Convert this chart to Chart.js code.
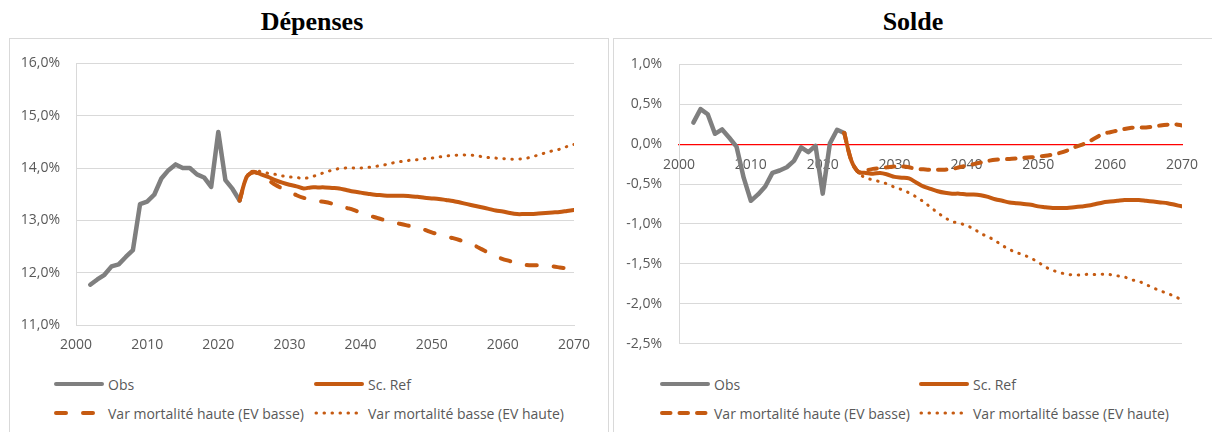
<!DOCTYPE html>
<html>
<head>
<meta charset="utf-8">
<script src="https://cdn.jsdelivr.net/npm/chart.js@4.4.1/dist/chart.umd.min.js"></script>
<style>
  html, body { margin:0; padding:0; background:#fff; }
  body { width:1212px; height:432px; position:relative; overflow:hidden; font-family:'Open Sans', sans-serif; }
  .title { position:absolute; top:6px; width:600px; text-align:center; font-family:'Liberation Serif', 'Times New Roman', serif; font-weight:bold; font-size:26px; line-height:32px; color:#000; }
  .box { position:absolute; top:38px; height:420px; border:1px solid #d9d9d9; box-sizing:border-box; }
  canvas { position:absolute; }
  .leg { position:absolute; height:20px; display:flex; align-items:center; color:#595959; font-size:14px; white-space:nowrap; }
  .leg svg { margin-right:4px; }
</style>
</head>
<body>
<div class="box" style="left:9px; width:600px;"></div>
<div class="box" style="left:613px; width:600px;"></div>
<div class="title" style="left:12px;">Dépenses</div>
<div class="title" style="left:613px;">Solde</div>
<canvas id="c1" width="597" height="330" style="left:10px; top:39px;"></canvas>
<canvas id="c2" width="597" height="330" style="left:614px; top:39px;"></canvas>
<div id="legends"></div>
<script>
// ---------- DATA ----------
const yearsObs = [2002,2003,2004,2005,2006,2007,2008,2009,2010,2011,2012,2013,2014,2015,2016,2017,2018,2019,2020,2021,2022,2023];
const yearsProj = [2023,2024,2025,2026,2027,2028,2029,2030,2031,2032,2033,2034,2035,2036,2037,2038,2039,2040,2041,2042,2043,2044,2045,2046,2047,2048,2049,2050,2051,2052,2053,2054,2055,2056,2057,2058,2059,2060,2061,2062,2063,2064,2065,2066,2067,2068,2069,2070];
const seriesNames = ['Obs', 'Sc. Ref', 'Var mortalité haute (EV basse)', 'Var mortalité basse (EV haute)'];
const chartTitles = ['Dépenses', 'Solde'];
const xTicks = [2000, 2010, 2020, 2030, 2040, 2050, 2060, 2070];
const depTicks = [11, 12, 13, 14, 15, 16];
const solTicks = [-2.5, -2.0, -1.5, -1.0, -0.5, 0.0, 0.5, 1.0];

// Dépenses (% du PIB)
const depObs = [11.77,11.87,11.96,12.12,12.16,12.30,12.43,13.31,13.36,13.49,13.80,13.96,14.07,14.00,14.00,13.88,13.82,13.64,14.69,13.77,13.60,13.38];
const depRef = [13.38,13.83,13.92,13.88,13.83,13.77,13.72,13.68,13.65,13.61,
                13.63,13.63,13.63,13.62,13.61,13.58,13.55,13.53,13.51,13.49,
                13.48,13.47,13.47,13.47,13.46,13.45,13.43,13.42,13.41,13.39,
                13.37,13.34,13.31,13.28,13.25,13.22,13.19,13.17,13.14,13.12,
                13.12,13.12,13.13,13.14,13.15,13.16,13.18,13.20];
const depHaute = [13.38,13.83,13.93,13.85,13.77,13.68,13.61,13.55,13.48,13.43,
                  13.40,13.37,13.35,13.32,13.28,13.24,13.20,13.15,13.10,13.06,
                  13.02,12.99,12.95,12.92,12.89,12.86,12.82,12.77,12.73,12.69,
                  12.66,12.62,12.57,12.52,12.45,12.38,12.31,12.26,12.22,12.17,
                  12.15,12.14,12.14,12.13,12.12,12.10,12.08,12.07];
const depBasse = [13.38,13.85,13.95,13.93,13.90,13.88,13.85,13.83,13.82,13.80,
                  13.83,13.87,13.92,13.96,13.99,14.00,14.00,14.00,14.01,14.03,
                  14.05,14.08,14.11,14.13,14.15,14.16,14.18,14.19,14.21,14.23,
                  14.24,14.25,14.25,14.24,14.22,14.20,14.19,14.18,14.17,14.17,
                  14.18,14.21,14.25,14.29,14.33,14.36,14.41,14.45];

// Solde (% du PIB)
const solObs = [0.27,0.44,0.375,0.13,0.185,0.08,-0.03,-0.42,-0.71,-0.63,-0.53,-0.36,-0.33,-0.29,-0.21,-0.04,-0.10,-0.02,-0.62,0.01,0.18,0.14];
const solRef = [0.14,-0.21,-0.35,-0.36,-0.37,-0.36,-0.38,-0.41,-0.42,-0.43,
                -0.48,-0.53,-0.56,-0.59,-0.61,-0.62,-0.62,-0.63,-0.63,-0.64,
                -0.66,-0.69,-0.71,-0.73,-0.74,-0.75,-0.76,-0.78,-0.79,-0.80,
                -0.80,-0.80,-0.79,-0.78,-0.77,-0.75,-0.73,-0.72,-0.71,-0.70,
                -0.70,-0.70,-0.71,-0.72,-0.73,-0.74,-0.76,-0.78];
const solHaute = [0.14,-0.21,-0.35,-0.33,-0.31,-0.30,-0.29,-0.28,-0.28,-0.29,
                  -0.31,-0.315,-0.32,-0.32,-0.32,-0.31,-0.29,-0.27,-0.25,-0.23,
                  -0.21,-0.195,-0.19,-0.185,-0.18,-0.17,-0.165,-0.155,-0.145,-0.13,
                  -0.11,-0.08,-0.04,-0.01,0.03,0.08,0.13,0.15,0.17,0.19,
                  0.205,0.21,0.21,0.22,0.235,0.245,0.25,0.235];
const solBasse = [0.14,-0.21,-0.37,-0.42,-0.45,-0.47,-0.50,-0.54,-0.57,-0.61,
                  -0.66,-0.72,-0.79,-0.86,-0.92,-0.97,-0.99,-1.02,-1.06,-1.12,
                  -1.16,-1.21,-1.27,-1.32,-1.36,-1.39,-1.43,-1.48,-1.54,-1.58,
                  -1.61,-1.63,-1.64,-1.64,-1.63,-1.635,-1.63,-1.635,-1.65,-1.665,
                  -1.70,-1.72,-1.76,-1.80,-1.84,-1.87,-1.91,-1.95];

// ---------- STYLE ----------
const GRAY = '#7f7f7f', ORANGE = '#c55a11', GRID = '#d9d9d9', TXT = '#595959';
Chart.defaults.font.family = "'Open Sans', sans-serif";
Chart.defaults.font.size = 14;
Chart.defaults.color = TXT;

const pts = (xs, ys) => xs.map((x, i) => ({x: x, y: ys[i]}));
const fmtPct = v => v.toFixed(1).replace('.', ',') + '%';

function makeDatasets(obs, ref, haute, basse, hauteDash) {
  return [
    {label: seriesNames[0], data: pts(yearsObs, obs), borderColor: GRAY, borderWidth: 4.5, tension: 0, order: 4, borderCapStyle: 'round', borderJoinStyle: 'round'},
    {label: seriesNames[1], data: pts(yearsProj, ref), borderColor: ORANGE, borderWidth: 4, tension: 0.3, order: 1, borderCapStyle: 'round', borderJoinStyle: 'round'},
    {label: seriesNames[2], data: pts(yearsProj, haute), borderColor: ORANGE, borderWidth: 4, tension: 0.3, order: 2, borderDash: hauteDash, borderCapStyle: 'round'},
    {label: seriesNames[3], data: pts(yearsProj, basse), borderColor: ORANGE, borderWidth: 3, tension: 0.3, order: 3, borderDash: [0.5, 7.5], borderCapStyle: 'round'}
  ];
}

const common = {
  responsive: false, animation: false, devicePixelRatio: 1,
  elements: { point: { radius: 0, hoverRadius: 0 }, line: { fill: false } },
  plugins: { legend: { display: false }, tooltip: { enabled: false }, title: { display: false } }
};

const xScale = (extra) => Object.assign({
  type: 'linear', min: xTicks[0], max: xTicks[xTicks.length - 1],
  afterBuildTicks: s => { s.ticks = xTicks.map(v => ({value: v})); },
  ticks: { callback: v => String(v), color: TXT, padding: 12, maxRotation: 0, autoSkip: false },
  grid: { display: false, drawTicks: false }
}, extra);

const chart1 = new Chart(document.getElementById('c1'), {
  type: 'line',
  data: { datasets: makeDatasets(depObs, depRef, depHaute, depBasse, [10, 17]) },
  options: Object.assign({}, common, {
    layout: { padding: { top: 21, right: 33, bottom: 0, left: 0 } },
    scales: {
      x: xScale({ position: 'bottom', border: { display: true, color: GRID, width: 1 }, afterFit: s => { s.height = 44; } }),
      y: {
        min: depTicks[0], max: depTicks[depTicks.length - 1],
        afterBuildTicks: s => { s.ticks = depTicks.map(v => ({value: v})); },
        ticks: { callback: fmtPct, color: TXT, padding: 16 },
        grid: { color: GRID, drawTicks: false, lineWidth: 1 },
        border: { display: true, color: GRID, width: 1 },
        afterFit: s => { s.width = 66; }
      }
    }
  })
});

const chart2 = new Chart(document.getElementById('c2'), {
  type: 'line',
  data: { datasets: makeDatasets(solObs, solRef, solHaute, solBasse, [8.5, 9]) },
  options: Object.assign({}, common, {
    layout: { padding: { top: 21, right: 29, bottom: 22, left: 0 } },
    scales: {
      x: xScale({ position: { y: 0 }, border: { display: true, color: '#ff0000', width: 1.2 } }),
      y: {
        min: solTicks[0], max: solTicks[solTicks.length - 1],
        afterBuildTicks: s => { s.ticks = solTicks.map(v => ({value: v})); },
        ticks: { callback: fmtPct, color: TXT, padding: 17 },
        grid: { color: c => (c.tick && c.tick.value === 0) ? '#ff0000' : GRID, drawTicks: false, lineWidth: 1 },
        border: { display: true, color: GRID, width: 1 },
        afterFit: s => { s.width = 65; }
      }
    }
  })
});

// ---------- HTML LEGENDS (built from the chart datasets) ----------
function legendSample(ds) {
  const ns = 'http://www.w3.org/2000/svg';
  const svg = document.createElementNS(ns, 'svg');
  svg.setAttribute('width', '50'); svg.setAttribute('height', '10');
  const ln = document.createElementNS(ns, 'line');
  ln.setAttribute('x1', '2'); ln.setAttribute('x2', '48');
  ln.setAttribute('y1', '5'); ln.setAttribute('y2', '5');
  ln.setAttribute('stroke', ds.borderColor);
  ln.setAttribute('stroke-width', ds.borderWidth > 4 ? 4 : ds.borderWidth);
  ln.setAttribute('stroke-linecap', 'round');
  if (ds.borderDash) ln.setAttribute('stroke-dasharray', ds.borderDash.join(' '));
  svg.appendChild(ln);
  return svg;
}
function buildLegend(chart, cols, rows) {
  const host = document.getElementById('legends');
  chart.data.datasets.forEach((ds, i) => {
    const d = document.createElement('div');
    d.className = 'leg';
    d.style.left = cols[i % 2] + 'px';
    d.style.top = (rows[Math.floor(i / 2)] - 10) + 'px';
    d.appendChild(legendSample(ds));
    const t = document.createElement('span');
    t.textContent = ds.label;
    d.appendChild(t);
    host.appendChild(d);
  });
}
buildLegend(chart1, [54, 314], [384, 413]);
buildLegend(chart2, [660, 919], [384, 413]);
</script>
</body>
</html>
